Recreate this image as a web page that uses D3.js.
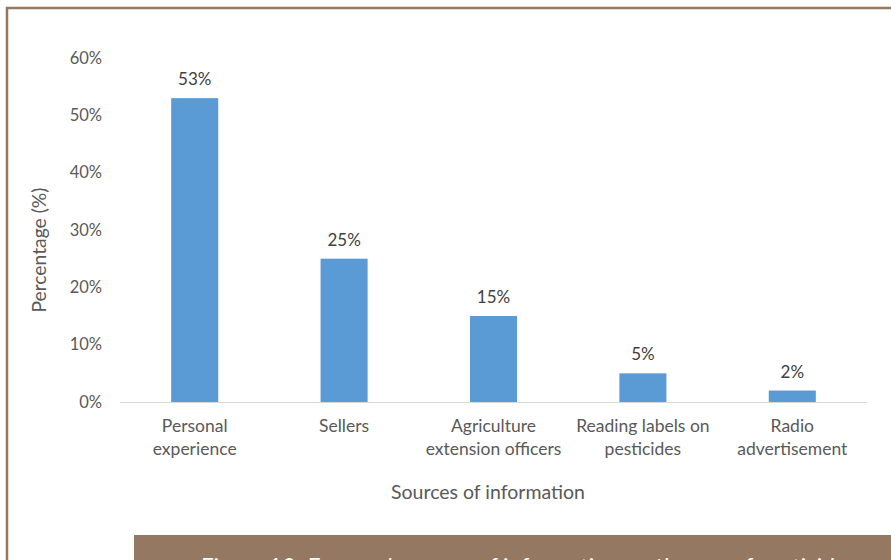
<!DOCTYPE html>
<html><head><meta charset="utf-8">
<script src="https://cdn.jsdelivr.net/npm/d3@7"></script>
<style>body{margin:0;background:#fff}svg{display:block}text{font-family:Lato,sans-serif}</style>
</head><body>
<svg id="c" width="891" height="560"></svg>
<script>
const categories = [["Personal","experience"],["Sellers"],["Agriculture","extension officers"],["Reading labels on","pesticides"],["Radio","advertisement"]];
const values = [53, 25, 15, 5, 2];
const yTicks = [0, 10, 20, 30, 40, 50, 60];
const yTitle = "Percentage (%)";
const xTitle = "Sources of information";
const caption = "Figure 10: Farmers' sources of information on the use of pesticides";

const svg = d3.select("#c");
const brown = "#94785f";
svg.append("rect").attr("x",0).attr("y",0).attr("width",891).attr("height",560).attr("fill","#fff");
svg.append("line").attr("x1",6).attr("x2",891).attr("y1",8).attr("y2",8).attr("stroke",brown).attr("stroke-width",2.5);
svg.append("line").attr("x1",7).attr("x2",7).attr("y1",7).attr("y2",560).attr("stroke",brown).attr("stroke-width",2.5);

const x = d3.scaleBand().domain(d3.range(values.length)).range([120, 867]).paddingInner(0.685).paddingOuter(0.3425);
const y = d3.scaleLinear().domain([0, 60]).range([402, 58]);

const g = svg.append("g");
g.selectAll(".yt").data(yTicks).join("text")
  .attr("x",102).attr("y",d=>y(d)).attr("dy","0.35em").attr("text-anchor","end")
  .attr("font-size",16.5).attr("fill","#595959").text(d=>d+"%");
g.selectAll(".bar").data(values).join("rect")
  .attr("x",(d,i)=>x(i)).attr("y",d=>y(d)).attr("width",x.bandwidth()).attr("height",d=>y(0)-y(d))
  .attr("fill","#5b9bd5");
g.append("line").attr("x1",120).attr("x2",867).attr("y1",y(0)+0.5).attr("y2",y(0)+0.5).attr("stroke","#d9d9d9").attr("stroke-width",1.2);
g.selectAll(".vl").data(values).join("text")
  .attr("x",(d,i)=>x(i)+x.bandwidth()/2).attr("y",d=>y(d)-13).attr("text-anchor","middle")
  .attr("font-size",17).attr("fill","#404040").text(d=>d+"%");
categories.forEach((lines,i)=>{
  const t = g.append("text").attr("text-anchor","middle").attr("font-size",17.5).attr("fill","#595959");
  lines.forEach((l,j)=>t.append("tspan").attr("x",x(i)+x.bandwidth()/2).attr("y",432+j*23).text(l));
});
g.append("text").attr("transform","translate(46,"+y(26.5)+") rotate(-90)").attr("text-anchor","middle")
  .attr("font-size",19.3).attr("fill","#595959").text(yTitle);
g.append("text").attr("x",488).attr("y",499).attr("text-anchor","middle")
  .attr("font-size",19.5).attr("fill","#595959").text(xTitle);
svg.append("rect").attr("x",134).attr("y",535).attr("width",757).attr("height",25).attr("fill","#947862");
svg.append("text").attr("x",200).attr("y",575).attr("font-size",24).attr("font-style","italic")
  .attr("fill","#fff").attr("font-family","'Liberation Serif',serif").text(caption);
</script>
</body></html>
